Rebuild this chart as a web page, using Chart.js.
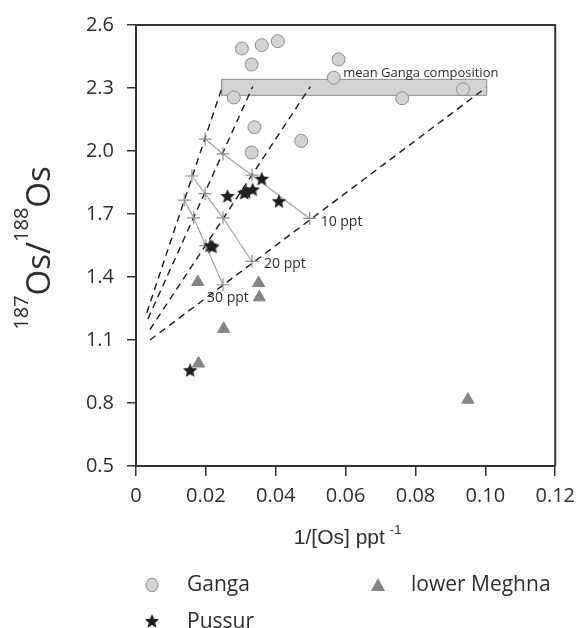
<!DOCTYPE html>
<html>
<head>
<meta charset="utf-8">
<script src="https://cdn.jsdelivr.net/npm/chart.js@4.4.1/dist/chart.umd.min.js"></script>
<style>
html,body{margin:0;padding:0;background:#fff;}
#wrap{width:583px;height:628px;position:relative;}
</style>
</head>
<body>
<div id="wrap"><canvas id="c" width="583" height="628"></canvas></div>
<script>
// ---------- data ----------
const xTicks = [0, 0.02, 0.04, 0.06, 0.08, 0.10, 0.12];
const xTickLabels = ['0', '0.02', '0.04', '0.06', '0.08', '0.10', '0.12'];
const yTicks = [0.5, 0.8, 1.1, 1.4, 1.7, 2.0, 2.3, 2.6];
const yTickLabels = ['0.5', '0.8', '1.1', '1.4', '1.7', '2.0', '2.3', '2.6'];

const seriesNames = ['Ganga', 'Pussur', 'lower Meghna'];

const gangaX = [0.0303, 0.0360, 0.0406, 0.0331, 0.0580, 0.0566, 0.0280, 0.0339, 0.0473, 0.0331, 0.0762, 0.0936];
const gangaY = [2.488, 2.504, 2.523, 2.412, 2.436, 2.349, 2.255, 2.113, 2.048, 1.993, 2.251, 2.294];

const pussurX = [0.0360, 0.0334, 0.0315, 0.0310, 0.0262, 0.0409, 0.0219, 0.0213, 0.0155];
const pussurY = [1.868, 1.817, 1.806, 1.800, 1.786, 1.761, 1.545, 1.550, 0.956];

const meghnaX = [0.0177, 0.0351, 0.0353, 0.0251, 0.0179, 0.0950];
const meghnaY = [1.376, 1.371, 1.303, 1.153, 0.988, 0.816];

// mixing curves (crosses)
const mix10X = [0.0198, 0.0249, 0.0332, 0.0497];
const mix10Y = [2.057, 1.986, 1.885, 1.679];
const mix20X = [0.0160, 0.0198, 0.0249, 0.0332];
const mix20Y = [1.881, 1.797, 1.682, 1.474];
const mix30X = [0.0138, 0.0165, 0.0200, 0.0249];
const mix30Y = [1.766, 1.682, 1.549, 1.363];
const mixLabels = ['10 ppt', '20 ppt', '30 ppt'];

// dashed lines
const dash1X = [0.0031, 0.0247];
const dash1Y = [1.23, 2.307];
const dash2X = [0.0034, 0.0334];
const dash2Y = [1.20, 2.307];
const dash3X = [0.0040, 0.0499];
const dash3Y = [1.15, 2.307];
const dash4X = [0.0040, 0.1002];
const dash4Y = [1.10, 2.302];

// mean Ganga composition box
const boxX = [0.0245, 0.1004];
const boxY = [2.265, 2.341];
const boxLabel = 'mean Ganga composition';
const boxLabelPos = [0.0593, 2.370];

const xTitle = '1/[Os] ppt';
const xTitleSup = '-1';
const yTitleParts = [['187', true], ['Os/', false], ['188', true], ['Os', false]];

// ---------- helpers ----------
const pts = (xs, ys) => xs.map((x, i) => ({x: x, y: ys[i]}));
const boxPts = [
  {x: boxX[0], y: boxY[0]}, {x: boxX[1], y: boxY[0]},
  {x: boxX[1], y: boxY[1]}, {x: boxX[0], y: boxY[1]}, {x: boxX[0], y: boxY[0]}
];

function makeStar(r, color) {
  const s = Math.ceil(r * 2 + 2);
  const c = document.createElement('canvas');
  c.width = s; c.height = s;
  const g = c.getContext('2d');
  g.beginPath();
  for (let i = 0; i < 10; i++) {
    const rr = i % 2 === 0 ? r : r * 0.45;
    const a = -Math.PI / 2 + i * Math.PI / 5;
    g.lineTo(s / 2 + rr * Math.cos(a), s / 2 + 0.6 + rr * Math.sin(a));
  }
  g.closePath();
  g.fillStyle = color;
  g.fill();
  return c;
}
const starImg = makeStar(7.6, '#1e1e1e');

const FONT = '"Open Sans", "DejaVu Sans", sans-serif';
const TXT = '#2e2e2e';

const mixStyle = {
  showLine: true, borderColor: '#a3a3a3', borderWidth: 1.2, tension: 0,
  pointStyle: 'cross', pointRadius: 6.5, pointBorderColor: '#8e8e8e', pointBorderWidth: 1.2,
  pointBackgroundColor: 'rgba(0,0,0,0)', order: 3
};
const dashStyle = {
  showLine: true, borderColor: '#1a1a1a', borderWidth: 1.4, borderDash: [7, 5],
  pointRadius: 0, tension: 0, order: 5
};

const annot = {
  id: 'annot',
  afterDraw(chart) {
    const ctx = chart.ctx;
    const a = chart.chartArea;
    const xs = chart.scales.x, ys = chart.scales.y;
    ctx.save();
    // frame (top & right)
    ctx.strokeStyle = '#333';
    ctx.lineWidth = 2;
    ctx.beginPath();
    ctx.moveTo(a.left - 1, a.top);
    ctx.lineTo(a.right, a.top);
    ctx.lineTo(a.right, a.bottom);
    ctx.stroke();

    // box label
    ctx.fillStyle = TXT;
    ctx.font = '13px ' + FONT;
    ctx.textAlign = 'left';
    ctx.textBaseline = 'middle';
    ctx.fillText(boxLabel, xs.getPixelForValue(boxLabelPos[0]), ys.getPixelForValue(boxLabelPos[1]));

    // mixing labels
    ctx.font = '14px ' + FONT;
    const ends = [[mix10X, mix10Y, 11, 4], [mix20X, mix20Y, 12, 3], [mix30X, mix30Y, -16, 13]];
    ends.forEach((e, i) => {
      const n = e[0].length - 1;
      const px = xs.getPixelForValue(e[0][n]);
      const py = ys.getPixelForValue(e[1][n]);
      ctx.fillText(mixLabels[i], px + e[2], py + e[3]);
    });

    // x title
    ctx.font = '21px "Liberation Sans", Arial, sans-serif';
    ctx.textBaseline = 'alphabetic';
    ctx.textAlign = 'left';
    const w1 = ctx.measureText(xTitle).width;
    ctx.font = '13px "Liberation Sans", Arial, sans-serif';
    const w2 = ctx.measureText(xTitleSup).width;
    const gap = 5;
    const tot = w1 + gap + w2;
    const cx = (a.left + a.right) / 2 + 2;
    const bx = cx - tot / 2;
    ctx.font = '21px "Liberation Sans", Arial, sans-serif';
    ctx.fillText(xTitle, bx, 544);
    ctx.font = '13px "Liberation Sans", Arial, sans-serif';
    ctx.fillText(xTitleSup, bx + w1 + gap, 534);

    // y title (rotated)
    ctx.save();
    ctx.translate(50, 248);
    ctx.rotate(-Math.PI / 2);
    const mainF = '33px ' + FONT, supF = '20px ' + FONT;
    let total = 0;
    const widths = yTitleParts.map(p => {
      ctx.font = p[1] ? supF : mainF;
      const w = ctx.measureText(p[0]).width;
      total += w;
      return w;
    });
    let cur = -total / 2;
    yTitleParts.forEach((p, i) => {
      ctx.font = p[1] ? supF : mainF;
      ctx.fillText(p[0], cur, p[1] ? -22 : 0);
      cur += widths[i];
    });
    ctx.restore();

    // legend
    ctx.font = '21px ' + FONT;
    ctx.textBaseline = 'middle';
    ctx.textAlign = 'left';
    // Ganga
    ctx.beginPath();
    ctx.ellipse(152, 585, 6, 6.7, 0, 0, Math.PI * 2);
    ctx.fillStyle = '#d3d3d3';
    ctx.fill();
    ctx.strokeStyle = '#8c8c8c';
    ctx.lineWidth = 1;
    ctx.stroke();
    ctx.fillStyle = TXT;
    ctx.fillText(seriesNames[0], 187, 585);
    // Pussur
    ctx.drawImage(starImg, 152 - starImg.width / 2, 621 - starImg.height / 2);
    ctx.fillStyle = TXT;
    ctx.fillText(seriesNames[1], 187, 622);
    // lower Meghna
    ctx.beginPath();
    ctx.moveTo(378, 578);
    ctx.lineTo(385, 591);
    ctx.lineTo(371, 591);
    ctx.closePath();
    ctx.fillStyle = '#858585';
    ctx.fill();
    ctx.fillStyle = TXT;
    ctx.fillText(seriesNames[2], 411, 585);
    ctx.restore();
  }
};

const tickFont = {family: FONT, size: 20};

new Chart(document.getElementById('c'), {
  type: 'scatter',
  data: {
    datasets: [
      {label: seriesNames[1], data: pts(pussurX, pussurY), pointStyle: starImg, order: 0},
      {label: seriesNames[0], data: pts(gangaX, gangaY), pointStyle: 'circle', pointRadius: 6.5,
        backgroundColor: '#d3d3d3', borderColor: '#8c8c8c', borderWidth: 1, order: 1},
      {label: seriesNames[2], data: pts(meghnaX, meghnaY), pointStyle: 'triangle', pointRadius: 7,
        backgroundColor: '#858585', borderColor: '#858585', borderWidth: 1, order: 2},
      Object.assign({label: mixLabels[0], data: pts(mix10X, mix10Y)}, mixStyle),
      Object.assign({label: mixLabels[1], data: pts(mix20X, mix20Y)}, mixStyle),
      Object.assign({label: mixLabels[2], data: pts(mix30X, mix30Y)}, mixStyle),
      Object.assign({label: 'd1', data: pts(dash1X, dash1Y)}, dashStyle),
      Object.assign({label: 'd2', data: pts(dash2X, dash2Y)}, dashStyle),
      Object.assign({label: 'd3', data: pts(dash3X, dash3Y)}, dashStyle),
      Object.assign({label: 'd4', data: pts(dash4X, dash4Y)}, dashStyle),
      {label: boxLabel, data: boxPts, showLine: true, fill: 'shape', tension: 0,
        backgroundColor: '#d4d4d4', borderColor: '#8f8f8f', borderWidth: 1, pointRadius: 0, order: 10}
    ]
  },
  options: {
    responsive: false,
    animation: false,
    events: [],
    layout: {padding: {left: 0, top: 22, right: 23, bottom: 122}},
    plugins: {legend: {display: false}, tooltip: {enabled: false}},
    scales: {
      x: {
        type: 'linear', min: 0, max: 0.12,
        afterBuildTicks: s => { s.ticks = xTicks.map(v => ({value: v})); },
        afterFit: s => { s.height = 40; },
        ticks: {callback: (v, i) => xTickLabels[i], font: tickFont, color: TXT, padding: 8,
          autoSkip: false, maxRotation: 0},
        grid: {drawOnChartArea: false, drawTicks: true, tickLength: 10, color: '#333', lineWidth: 1.5},
        border: {display: true, color: '#333', width: 2}
      },
      y: {
        type: 'linear', min: 0.5, max: 2.6,
        afterBuildTicks: s => { s.ticks = yTicks.map(v => ({value: v})); },
        afterFit: s => { s.width = 136; },
        ticks: {callback: (v, i) => yTickLabels[i], font: tickFont, color: TXT, padding: 13, autoSkip: false},
        grid: {drawOnChartArea: false, drawTicks: true, tickLength: 9, color: '#333', lineWidth: 1.5},
        border: {display: true, color: '#333', width: 2}
      }
    }
  },
  plugins: [annot]
});
</script>
</body>
</html>
